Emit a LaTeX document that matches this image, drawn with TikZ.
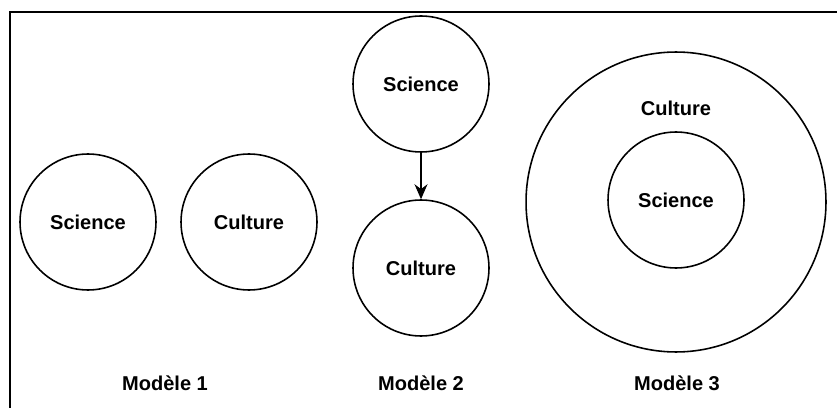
\documentclass[tikz,border=0pt]{standalone}
\usepackage{fontspec}
\setmainfont{Liberation Sans}
\usetikzlibrary{arrows.meta}

\begin{document}
\begin{tikzpicture}[x=0.02cm, y=-0.02cm, >={Stealth[length=3mm,width=2.6mm]},
    kreis/.style={draw, circle, line width=0.9pt, minimum size=2.72cm, inner sep=0pt},
    txt/.style={font=\fontsize{11.4}{13}\selectfont\bfseries}]
    \useasboundingbox (0,0) rectangle (837,408);

    % Rahmen
    \draw[line width=1.6pt] (10,408) -- (10,12) -- (837,12);

    % Modele 1
    \node[kreis, txt] (sci1) at (88,222) {Science};
    \node[kreis, txt] (cul1) at (249,222) {Culture};
    \node[txt] (mod1) at (165,383) {Modèle 1};

    % Modele 2
    \node[kreis, txt] (sci2) at (421,84) {Science};
    \node[kreis, txt] (cul2) at (421,268) {Culture};
    \draw[->, line width=0.6pt] (sci2) -- (cul2);
    \node[txt] (mod2) at (421,383) {Modèle 2};

    % Modele 3
    \node[kreis, minimum size=6cm] (cul3) at (676,202) {};
    \node[txt] (cul3lab) at (676,108) {Culture};
    \node[kreis, txt] (sci3) at (676,200) {Science};
    \node[txt] (mod3) at (677,383) {Modèle 3};
\end{tikzpicture}
\end{document}
